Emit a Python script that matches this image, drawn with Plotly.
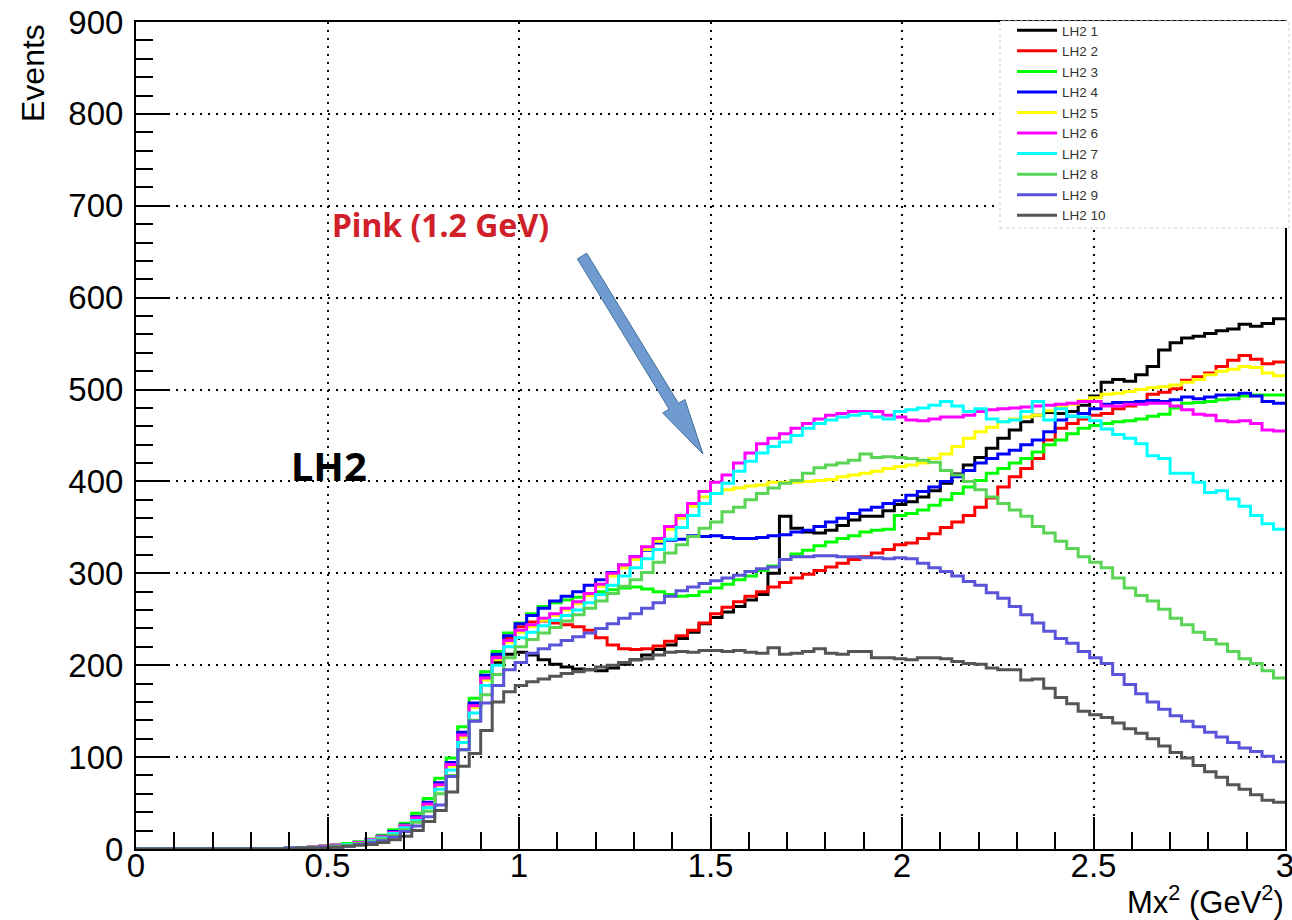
import numpy as np
import plotly.graph_objects as go

# ---------------- data ----------------
bin_width = 0.03
n_bins = 100
edges = np.round(np.arange(n_bins + 1) * bin_width, 4)

series_names = ["LH2 1", "LH2 2", "LH2 3", "LH2 4", "LH2 5",
                "LH2 6", "LH2 7", "LH2 8", "LH2 9", "LH2 10"]

zeros13 = [0, 0, 0, 0, 0, 0, 0, 0, 0, 0, 0, 0, 0]

lh2_1 = zeros13 + [
    1, 1, 2, 3, 4, 5, 7, 9, 13, 18,
    24, 33, 48, 70, 92, 125, 155, 185, 203, 212,
    214, 211, 206, 201, 198, 196, 195, 194, 197, 201,
    206, 211, 217, 222, 229, 236, 245, 252, 258, 264,
    271, 277, 300, 362, 349, 345, 344, 347, 352, 358,
    362, 362, 368, 375, 378, 383, 390, 398, 408, 418,
    426, 436, 447, 456, 465, 472, 475, 474, 476, 483,
    493, 508, 511, 509, 516, 525, 543, 551, 556, 558,
    561, 564, 566, 571, 569, 572, 577]

lh2_2 = zeros13 + [
    1, 1, 2, 3, 4, 5, 7, 10, 14, 19,
    26, 35, 50, 70, 92, 125, 157, 188, 210, 230,
    242, 247, 248, 246, 244, 242, 238, 230, 222, 218,
    217, 218, 221, 226, 232, 238, 246, 256, 263, 269,
    275, 280, 285, 290, 295, 299, 303, 307, 311, 315,
    318, 322, 326, 331, 333, 338, 343, 350, 356, 363,
    372, 382, 394, 405, 414, 425, 445, 458, 463, 468,
    472, 474, 479, 482, 485, 495, 497, 501, 510, 514,
    518, 525, 532, 537, 533, 528, 530]

lh2_3 = zeros13 + [
    1, 1, 2, 3, 4, 6, 8, 11, 15, 21,
    28, 39, 55, 77, 99, 133, 164, 193, 215, 235,
    246, 256, 264, 268, 271, 274, 277, 280, 282, 284,
    285, 283, 280, 277, 275, 276, 280, 284, 288, 293,
    297, 303, 308, 315, 321, 325, 330, 334, 338, 341,
    345, 347, 348, 363, 365, 369, 374, 380, 387, 394,
    401, 409, 414, 420, 425, 432, 440, 445, 452, 458,
    461, 463, 465, 466, 468, 471, 473, 480, 485, 486,
    487, 489, 490, 493, 494, 494, 494]

lh2_4 = zeros13 + [
    1, 1, 2, 3, 4, 5, 7, 10, 14, 19,
    26, 35, 51, 72, 94, 127, 159, 189, 212, 232,
    245, 254, 262, 270, 275, 280, 287, 293, 301, 309,
    318, 325, 333, 336, 337, 341, 340, 341, 339, 338,
    338, 339, 341, 342, 345, 347, 351, 356, 360, 365,
    369, 372, 376, 379, 385, 389, 394, 400, 405, 412,
    420, 425, 430, 434, 440, 445, 454, 467, 471, 474,
    479, 484, 486, 486, 487, 488, 487, 489, 492, 490,
    492, 494, 494, 496, 493, 487, 485]

lh2_5 = zeros13 + [
    1, 1, 2, 3, 4, 5, 7, 10, 13, 18,
    25, 33, 48, 69, 90, 122, 154, 184, 206, 225,
    236, 242, 249, 254, 260, 267, 276, 286, 297, 306,
    315, 326, 335, 348, 360, 373, 383, 387, 391, 393,
    395, 396, 399, 399, 399, 400, 401, 402, 405, 407,
    409, 411, 414, 416, 418, 420, 425, 430, 438, 447,
    454, 459, 465, 468, 470, 472, 477, 481, 484, 488,
    491, 495, 496, 498, 500, 502, 503, 505, 508, 511,
    516, 520, 522, 525, 524, 518, 515]

lh2_6 = zeros13 + [
    1, 1, 2, 3, 4, 5, 7, 10, 13, 18,
    25, 34, 49, 70, 92, 124, 156, 186, 208, 227,
    238, 244, 251, 256, 262, 269, 278, 288, 300, 309,
    318, 329, 338, 351, 363, 376, 389, 399, 407, 420,
    431, 441, 447, 452, 458, 463, 468, 472, 474, 476,
    476, 476, 472, 470, 467, 466, 468, 470, 470, 472,
    476, 478, 479, 480, 481, 482, 483, 484, 485, 487,
    487, 482, 482, 484, 484, 485, 485, 482, 478, 473,
    472, 466, 465, 466, 463, 456, 455]

lh2_7 = zeros13 + [
    1, 1, 1, 2, 3, 5, 6, 9, 12, 17,
    23, 31, 45, 65, 86, 116, 148, 178, 200, 220,
    230, 236, 243, 249, 254, 260, 268, 277, 287, 297,
    306, 316, 326, 337, 350, 363, 376, 387, 398, 411,
    422, 431, 438, 443, 450, 458, 463, 467, 470, 472,
    474, 470, 468, 476, 478, 480, 483, 487, 482, 476,
    479, 468, 465, 467, 476, 487, 467, 479, 471, 470,
    466, 457, 451, 447, 441, 428, 425, 409, 409, 399,
    388, 390, 381, 373, 363, 354, 348]

lh2_8 = zeros13 + [
    1, 1, 1, 2, 3, 4, 6, 8, 11, 15,
    21, 29, 41, 60, 80, 108, 140, 168, 190, 208,
    220, 228, 235, 241, 248, 255, 262, 270, 278, 286,
    293, 301, 312, 322, 331, 340, 349, 356, 367, 372,
    380, 387, 393, 398, 401, 409, 415, 418, 420, 423,
    430, 426, 427, 426, 425, 423, 421, 412, 407, 400,
    391, 383, 376, 369, 362, 351, 344, 335, 327, 318,
    312, 306, 295, 284, 276, 270, 261, 251, 244, 236,
    228, 223, 215, 207, 202, 194, 186]

lh2_9 = zeros13 + [
    1, 1, 1, 2, 2, 3, 5, 7, 9, 13,
    19, 25, 35, 48, 79, 108, 139, 159, 178, 195,
    203, 213, 218, 222, 227, 231, 235, 240, 245, 251,
    256, 262, 268, 275, 281, 285, 289, 292, 295, 298,
    302, 305, 307, 315, 318, 318, 319, 319, 318, 318,
    317, 317, 316, 317, 316, 311, 306, 302, 297, 291,
    287, 279, 273, 264, 255, 246, 237, 229, 224, 215,
    208, 202, 190, 179, 169, 160, 152, 145, 139, 133,
    127, 122, 116, 110, 106, 101, 95]

lh2_10 = zeros13 + [
    0, 1, 1, 1, 2, 3, 4, 5, 7, 10,
    14, 20, 30, 42, 62, 90, 104, 129, 160, 171,
    178, 182, 185, 188, 191, 193, 195, 198, 200, 203,
    206, 207, 211, 214, 215, 214, 216, 216, 215, 216,
    214, 213, 219, 212, 213, 215, 218, 213, 212, 215,
    215, 208, 208, 207, 206, 208, 208, 207, 204, 202,
    201, 197, 195, 195, 184, 185, 175, 165, 158, 150,
    146, 143, 137, 131, 126, 120, 112, 105, 99, 91,
    84, 78, 70, 65, 59, 53, 51]

series_values = [lh2_1, lh2_2, lh2_3, lh2_4, lh2_5,
                 lh2_6, lh2_7, lh2_8, lh2_9, lh2_10]

colors = ["#000000", "#ff0000", "#00ff00", "#0000ff", "#ffff00",
          "#ff00ff", "#00ffff", "#59d454", "#5954d9", "#555555"]

x_ticks = [0, 0.5, 1, 1.5, 2, 2.5, 3]
y_ticks = [0, 100, 200, 300, 400, 500, 600, 700, 800, 900]

# ---------------- figure ----------------
W, H = 1292, 920
ML, MR, MT, MB = 136, 7, 22, 71
PW, PH = W - ML - MR, H - MT - MB


def paper(px, py):
    return (px - ML) / PW, (H - MB - py) / PH


fig = go.Figure()
for name, vals, col in zip(series_names, series_values, colors):
    fig.add_trace(go.Scatter(
        x=list(edges), y=list(vals) + [vals[-1]],
        mode="lines", line=dict(color=col, width=3, shape="hv"),
        name=name))

font_main = "Liberation Sans, Arial, sans-serif"
axis_common = dict(
    ticks="inside", ticklen=32, tickwidth=1.5, tickcolor="black",
    showgrid=True, gridcolor="black", griddash="2px,6px", gridwidth=1.5,
    showline=True, linecolor="black", linewidth=2, mirror=True,
    zeroline=False, ticklabeloverflow="allow", automargin=False,
    tickfont=dict(family=font_main, size=33, color="black"),
)

fig.update_xaxes(range=[0, 3], tickmode="array", tickvals=x_ticks,
                 ticktext=[f"{v:g}" for v in x_ticks],
                 minor=dict(dtick=0.1, tick0=0, ticks="inside", ticklen=17,
                            tickwidth=1.5, tickcolor="black", showgrid=False),
                 ticklabelstandoff=-14, **axis_common)
fig.update_yaxes(range=[0, 900], tickmode="array", tickvals=y_ticks,
                 ticktext=[str(v) for v in y_ticks],
                 minor=dict(dtick=20, tick0=0, ticks="inside", ticklen=17,
                            tickwidth=1.5, tickcolor="black", showgrid=False),
                 ticklabelstandoff=4, **axis_common)

# legend box
lx0, ly0 = paper(1000, 228)
lx1, ly1 = paper(1289, 21)
shapes = [dict(type="rect", xref="paper", yref="paper", x0=lx0, y0=ly0,
               x1=lx1, y1=ly1, fillcolor="white", layer="above",
               line=dict(color="#cccccc", width=1, dash="dot"))]

# block arrow
tail = np.array([582.0, 256.0])
tip = np.array([703.0, 454.0])
u = (tip - tail) / np.linalg.norm(tip - tail)
nrm = np.array([-u[1], u[0]])
hw, HW, HL = 5.5, 13.0, 56.0
base = tip - u * HL
pts = [tail + nrm * hw, base + nrm * hw, base + nrm * HW, tip,
       base - nrm * HW, base - nrm * hw, tail - nrm * hw]
pp = [paper(p[0], p[1]) for p in pts]
path = "M " + " L ".join(f"{a:.5f},{b:.5f}" for a, b in pp) + " Z"
shapes.append(dict(type="path", xref="paper", yref="paper", path=path,
                   fillcolor="#6f9bd1", line=dict(color="#41719c", width=1),
                   layer="above"))

annotations = []
ex, ey = paper(33, 22)
annotations.append(dict(text="Events", textangle=-90, x=ex, y=ey,
                        xref="paper", yref="paper", xanchor="center",
                        yanchor="top", showarrow=False,
                        font=dict(family=font_main, size=32, color="black")))
tx, ty = paper(1286, 900)
annotations.append(dict(text="Mx<sup>2</sup> (GeV<sup>2</sup>)", x=tx, y=ty,
                        xref="paper", yref="paper", xanchor="right",
                        yanchor="middle", showarrow=False,
                        font=dict(family=font_main, size=31, color="black")))
hx, hy = paper(329, 465)
annotations.append(dict(text="<b>LH2</b>", x=hx, y=hy, xref="paper",
                        yref="paper", xanchor="center", yanchor="middle",
                        showarrow=False,
                        font=dict(family="Noto Sans", size=40, color="black")))
px_, py_ = paper(440, 225)
annotations.append(dict(text="<b>Pink (1.2 GeV)</b>", x=px_, y=py_,
                        xref="paper", yref="paper", xanchor="center",
                        yanchor="middle", showarrow=False,
                        font=dict(family="Noto Sans", size=32, color="#d0202a")))

legx, legy = paper(1012, 15)
fig.update_layout(
    width=W, height=H,
    margin=dict(l=ML, r=MR, t=MT, b=MB, autoexpand=False),
    paper_bgcolor="white", plot_bgcolor="white",
    showlegend=True,
    legend=dict(x=legx, y=legy, xanchor="left", yanchor="top",
                bgcolor="rgba(0,0,0,0)", borderwidth=0,
                font=dict(family=font_main, size=13.5, color="#333333"),
                tracegroupgap=0, itemwidth=40),
    shapes=shapes, annotations=annotations,
)

fig.write_html("out.html")
